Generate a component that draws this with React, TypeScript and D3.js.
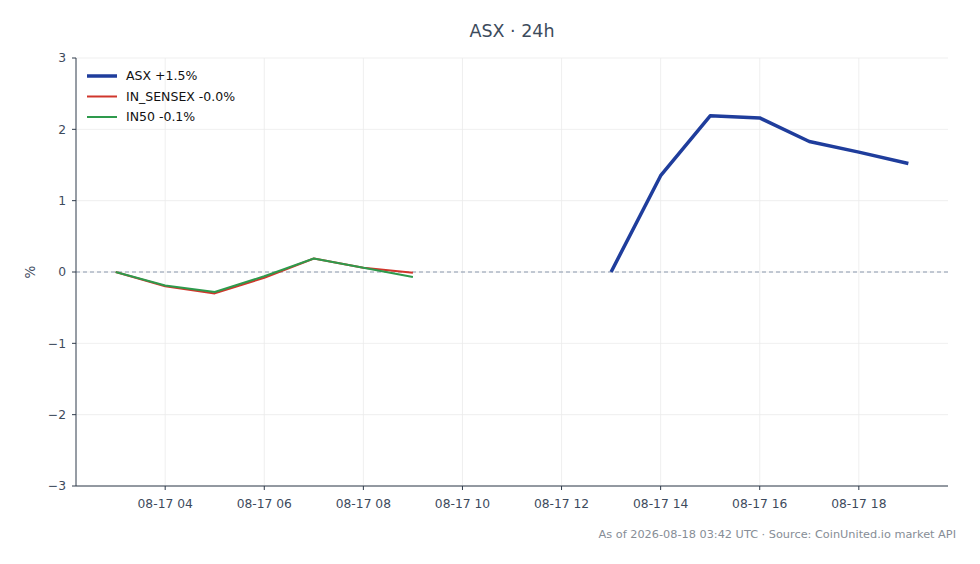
import * as d3 from "d3";

const width = 980;
const height = 564;
const marginTop = 58;
const marginRight = 32;
const marginBottom = 78;
const marginLeft = 76;

// hours of 2026-08-17 (UTC)
const asxHours = [13, 14, 15, 16, 17, 18, 19];
const asxValues = [0, 1.35, 2.19, 2.16, 1.83, 1.68, 1.52];

const sensexHours = [3, 4, 5, 6, 7, 8, 9];
const sensexValues = [0, -0.2, -0.3, -0.08, 0.19, 0.06, -0.01];

const in50Hours = [3, 4, 5, 6, 7, 8, 9];
const in50Values = [0, -0.19, -0.28, -0.06, 0.19, 0.06, -0.07];

const xTicks = [4, 6, 8, 10, 12, 14, 16, 18];
const yTicks = [-3, -2, -1, 0, 1, 2, 3];

const series = [
  { label: "ASX +1.5%", hours: asxHours, values: asxValues, color: "#1f3d9c", width: 3.5 },
  { label: "IN_SENSEX -0.0%", hours: sensexHours, values: sensexValues, color: "#d0362c", width: 2 },
  { label: "IN50 -0.1%", hours: in50Hours, values: in50Values, color: "#2e9a4c", width: 2 },
];

const font = "'DejaVu Sans', sans-serif";
const tickColor = "#3d4a5c";

const fmtY = (v: number) => (v < 0 ? "\u2212" + Math.abs(v) : String(v));
const fmtX = (h: number) => `08-17 ${String(h).padStart(2, "0")}`;

const App = () => {
  const x = d3
    .scaleLinear()
    .domain([2.2, 19.8])
    .range([marginLeft, width - marginRight]);
  const y = d3
    .scaleLinear()
    .domain([-3, 3])
    .range([height - marginBottom, marginTop]);

  const line = d3
    .line<[number, number]>()
    .x((d) => x(d[0]))
    .y((d) => y(d[1]));

  // draw order: green over red, blue on top
  const drawOrder = [series[1], series[2], series[0]];

  return (
    <div style={{ position: "absolute", left: 0, top: 0 }}>
      <svg width={width} height={height} viewBox={`0 0 ${width} ${height}`} style={{ display: "block", background: "#fff" }}>
        <text x={(marginLeft + width - marginRight) / 2} y={37} textAnchor="middle" fontFamily={font} fontSize={17.5} fill="#3d4b5c">
          ASX · 24h
        </text>

        {/* grid */}
        {yTicks.map((t) => (
          <line key={"gy" + t} x1={marginLeft} x2={width - marginRight} y1={y(t)} y2={y(t)} stroke="#ebebeb" strokeWidth={0.8} />
        ))}
        {xTicks.map((t) => (
          <line key={"gx" + t} x1={x(t)} x2={x(t)} y1={marginTop} y2={height - marginBottom} stroke="#ebebeb" strokeWidth={0.8} />
        ))}

        <line x1={marginLeft} x2={width - marginRight} y1={y(0)} y2={y(0)} stroke="#8a98ad" strokeWidth={1} strokeDasharray="4,3" />

        {drawOrder.map((s) => (
          <path
            key={s.label}
            d={line(s.hours.map((h, i) => [h, s.values[i]] as [number, number])) as string}
            fill="none"
            stroke={s.color}
            strokeWidth={s.width}
            strokeLinejoin="round"
          />
        ))}

        {/* axes */}
        <line x1={marginLeft} x2={marginLeft} y1={marginTop} y2={height - marginBottom} stroke="#2f3b4b" strokeWidth={1} />
        <line x1={marginLeft} x2={width - marginRight} y1={height - marginBottom} y2={height - marginBottom} stroke="#2f3b4b" strokeWidth={1} />
        {yTicks.map((t) => (
          <g key={"ty" + t} transform={`translate(${marginLeft},${y(t)})`}>
            <line x1={-4} x2={0} stroke="#2f3b4b" />
            <text x={-10} dy="0.35em" textAnchor="end" fontFamily={font} fontSize={12.3} fill={tickColor}>
              {fmtY(t)}
            </text>
          </g>
        ))}
        {xTicks.map((t) => (
          <g key={"tx" + t} transform={`translate(${x(t)},${height - marginBottom})`}>
            <line y1={0} y2={4} stroke="#2f3b4b" />
            <text y={22} textAnchor="middle" fontFamily={font} fontSize={12.3} fill={tickColor}>
              {fmtX(t)}
            </text>
          </g>
        ))}
        <text transform={`translate(35,${y(0)}) rotate(-90)`} textAnchor="middle" fontFamily={font} fontSize={13.5} fill={tickColor}>
          %
        </text>

        {/* legend */}
        {series.map((s, i) => (
          <g key={"lg" + s.label} transform={`translate(87,${76 + i * 20.5})`}>
            <line x1={0} x2={30} stroke={s.color} strokeWidth={s.width} />
            <text x={39} dy="0.35em" fontFamily={font} fontSize={12.5} fill="#111">
              {s.label}
            </text>
          </g>
        ))}

        <text x={956} y={538} textAnchor="end" fontFamily={font} fontSize={11.3} fill="#868d96">
          As of 2026-08-18 03:42 UTC · Source: CoinUnited.io market API
        </text>
      </svg>
    </div>
  );
};

export default App;
